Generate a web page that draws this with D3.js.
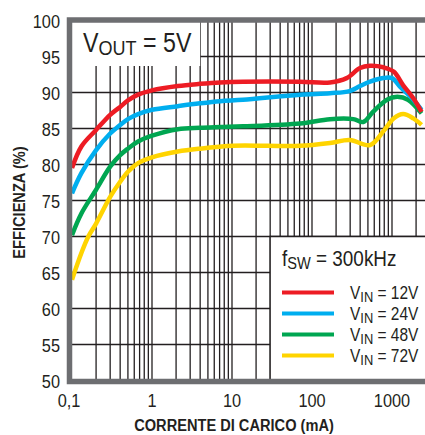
<!DOCTYPE html>
<html>
<head>
<meta charset="utf-8">
<script src="https://cdn.jsdelivr.net/npm/d3@7"></script>
<style>
  body { margin: 0; background: #fff; }
  svg { display: block; }
  text { fill: #231f20; font-family: "Liberation Sans", Arial, sans-serif; }
</style>
</head>
<body>
<svg id="chart" width="425" height="435"></svg>
<script>
// load current (mA) sample points, one array per series
const current12 = [0.1, 0.131, 0.2, 0.3, 0.4, 0.5, 0.67, 1.0, 2.1, 3.98, 7.1, 13.7, 70.8, 168, 271, 398, 531, 778, 1047, 1380, 1847, 2341];
const eff12     = [79.5, 82.5, 84.8, 86.9, 88.0, 88.9, 89.7, 90.3, 90.9, 91.2, 91.4, 91.5, 91.5, 91.4, 92.0, 93.4, 93.7, 93.5, 92.9, 91.0, 89.2, 87.3];

const current24 = [0.1, 0.131, 0.2, 0.3, 0.4, 0.5, 0.67, 1.0, 2.1, 3.98, 7.1, 13.7, 70.8, 168, 296, 398, 531, 778, 1000, 1259, 1847, 2341];
const eff24     = [76.0, 78.8, 82.0, 84.3, 85.5, 86.3, 87.0, 87.6, 88.1, 88.5, 88.8, 89.0, 89.7, 89.9, 90.2, 90.9, 91.5, 92.0, 92.0, 90.8, 89.0, 87.6];

const current48 = [0.1, 0.131, 0.2, 0.3, 0.4, 0.5, 0.67, 1.0, 2.1, 3.98, 7.1, 13.7, 70.8, 168, 329, 437, 578, 866, 1160, 1585, 2341];
const eff48     = [70.2, 73.2, 76.5, 79.7, 81.3, 82.2, 83.2, 84.0, 84.9, 85.1, 85.2, 85.3, 85.7, 86.3, 86.3, 85.9, 87.3, 89.0, 89.4, 89.0, 87.1];

const current72 = [0.1, 0.131, 0.16, 0.2, 0.3, 0.4, 0.5, 0.67, 1.0, 2.1, 3.98, 10.4, 27.4, 70.8, 168, 296, 531, 778, 1047, 1380, 1847, 2341];
const eff72     = [64.0, 67.7, 70.0, 71.8, 75.5, 77.6, 79.0, 80.2, 81.0, 81.8, 82.2, 82.6, 82.6, 82.6, 83.0, 83.4, 82.7, 84.6, 86.4, 87.0, 86.4, 85.5];

const seriesNames  = ["12V", "24V", "48V", "72V"];
const seriesColors = ["#ed1c24", "#00aeef", "#00a651", "#ffd400"];

const xTicks = [0.1, 1, 10, 100, 1000];
const xTickLabels = ["0,1", "1", "10", "100", "1000"];
const yTicks = [50, 55, 60, 65, 70, 75, 80, 85, 90, 95, 100];

const series = [
  { name: seriesNames[0], color: seriesColors[0], values: current12.map((c, i) => ({ c, e: eff12[i] })) },
  { name: seriesNames[1], color: seriesColors[1], values: current24.map((c, i) => ({ c, e: eff24[i] })) },
  { name: seriesNames[2], color: seriesColors[2], values: current48.map((c, i) => ({ c, e: eff48[i] })) },
  { name: seriesNames[3], color: seriesColors[3], values: current72.map((c, i) => ({ c, e: eff72[i] })) }
];

const svg = d3.select("#chart");
const frameColor = "#6d6e71";
const gridColor = "#231f20";

const plotLeft = 72, plotTop = 20.5, plotBottom = 380.5;

const x = d3.scaleLog().domain([0.1, 2500]).range([plotLeft, plotLeft + 80 * Math.log10(25000)]);
const y = d3.scaleLinear().domain([50, 100]).range([plotBottom, plotTop]);

// the original uses a condensed face; squeeze Liberation Sans horizontally
const squeeze = 0.86;
const place = (sel, px, py, extra = "") =>
  sel.attr("transform", `translate(${px},${py})${extra} scale(${squeeze},1)`);

// grid lines: every 1..9 multiple per decade
const vLines = [];
[0.1, 1, 10, 100, 1000].forEach(d => {
  for (let k = 1; k <= 9; k++) {
    const v = d * k;
    if (v > 0.1 && v <= 2500) vLines.push(v);
  }
});

const grid = svg.append("g");
grid.selectAll("line.v")
  .data(vLines)
  .join("line")
  .attr("class", "v")
  .attr("x1", d => x(d)).attr("x2", d => x(d))
  .attr("y1", plotTop).attr("y2", plotBottom)
  .attr("stroke", gridColor).attr("stroke-width", 1.3);

grid.selectAll("line.h")
  .data(yTicks.filter(d => d > 50 && d < 100))
  .join("line")
  .attr("class", "h")
  .attr("x1", plotLeft).attr("x2", 425)
  .attr("y1", d => y(d)).attr("y2", d => y(d))
  .attr("stroke", gridColor).attr("stroke-width", 1.3);

// VOUT box (white, covers grid)
svg.append("rect")
  .attr("x", plotLeft).attr("y", plotTop)
  .attr("width", x(4) - plotLeft).attr("height", 66 - plotTop)
  .attr("fill", "#fff");

const vout = svg.append("text").style("font-size", "27px");
place(vout, 83, 52);
vout.append("tspan").text("V");
vout.append("tspan").attr("dy", 3).style("font-size", "21px").text("OUT");
vout.append("tspan").attr("dy", -3).text(" = 5V");

// legend box
svg.append("rect")
  .attr("x", x(30)).attr("y", y(70))
  .attr("width", 425 - x(30)).attr("height", plotBottom - y(70))
  .attr("fill", "#fff");
svg.append("path")
  .attr("d", `M${x(30)},${plotBottom}V${y(70)}H425`)
  .attr("fill", "none")
  .attr("stroke", gridColor).attr("stroke-width", 1.3);

const fsw = svg.append("text").style("font-size", "22px");
place(fsw, 282, 266);
fsw.append("tspan").text("f");
fsw.append("tspan").attr("dy", 3).style("font-size", "17px").text("SW");
fsw.append("tspan").attr("dy", -3).text(" = 300kHz");

const legend = svg.append("g");
series.forEach((s, i) => {
  const ly = 292.5 + i * 21;
  legend.append("line")
    .attr("x1", 282).attr("x2", 334)
    .attr("y1", ly).attr("y2", ly)
    .attr("stroke", s.color).attr("stroke-width", 4);
  const t = legend.append("text").style("font-size", "18px");
  place(t, 350, ly + 6);
  t.append("tspan").text("V");
  t.append("tspan").attr("dy", 3).style("font-size", "15px").text("IN");
  t.append("tspan").attr("dy", -3).text(" = " + s.name);
});

// curves
const line = d3.line()
  .x(d => x(d.c))
  .y(d => y(d.e))
  .curve(d3.curveCatmullRom.alpha(0.5));

svg.append("g")
  .selectAll("path")
  .data(series.slice().reverse())
  .join("path")
  .attr("d", d => line(d.values))
  .attr("fill", "none")
  .attr("stroke", d => d.color)
  .attr("stroke-width", 4.5)
  .attr("stroke-linejoin", "round");

// frame (thick gray) on top, left, bottom
svg.append("path")
  .attr("d", `M425,${plotTop - 0.5}H${plotLeft - 2.5}V${plotBottom + 1}H425`)
  .attr("fill", "none")
  .attr("stroke", frameColor)
  .attr("stroke-width", 5.5);

// tick labels
svg.append("g")
  .selectAll("text")
  .data(yTicks)
  .join("text")
  .attr("text-anchor", "end")
  .style("font-size", "19px")
  .text(d => d)
  .each(function (d) { place(d3.select(this), 60, y(d) + 7); });

svg.append("g")
  .selectAll("text")
  .data(xTicks)
  .join("text")
  .attr("text-anchor", "middle")
  .style("font-size", "19px")
  .text((d, i) => xTickLabels[i])
  .each(function (d, i) { place(d3.select(this), i === 0 ? x(d) - 3 : x(d), 407); });

// axis titles
const yTitle = svg.append("text")
  .attr("text-anchor", "middle")
  .style("font-size", "17px")
  .style("font-weight", "bold")
  .text("EFFICIENZA (%)");
place(yTitle, 25, (plotTop + plotBottom) / 2 + 2, " rotate(-90)");

const xTitle = svg.append("text")
  .attr("text-anchor", "middle")
  .style("font-size", "17px")
  .style("font-weight", "bold")
  .text("CORRENTE DI CARICO (mA)");
place(xTitle, 234, 431);
</script>
</body>
</html>
